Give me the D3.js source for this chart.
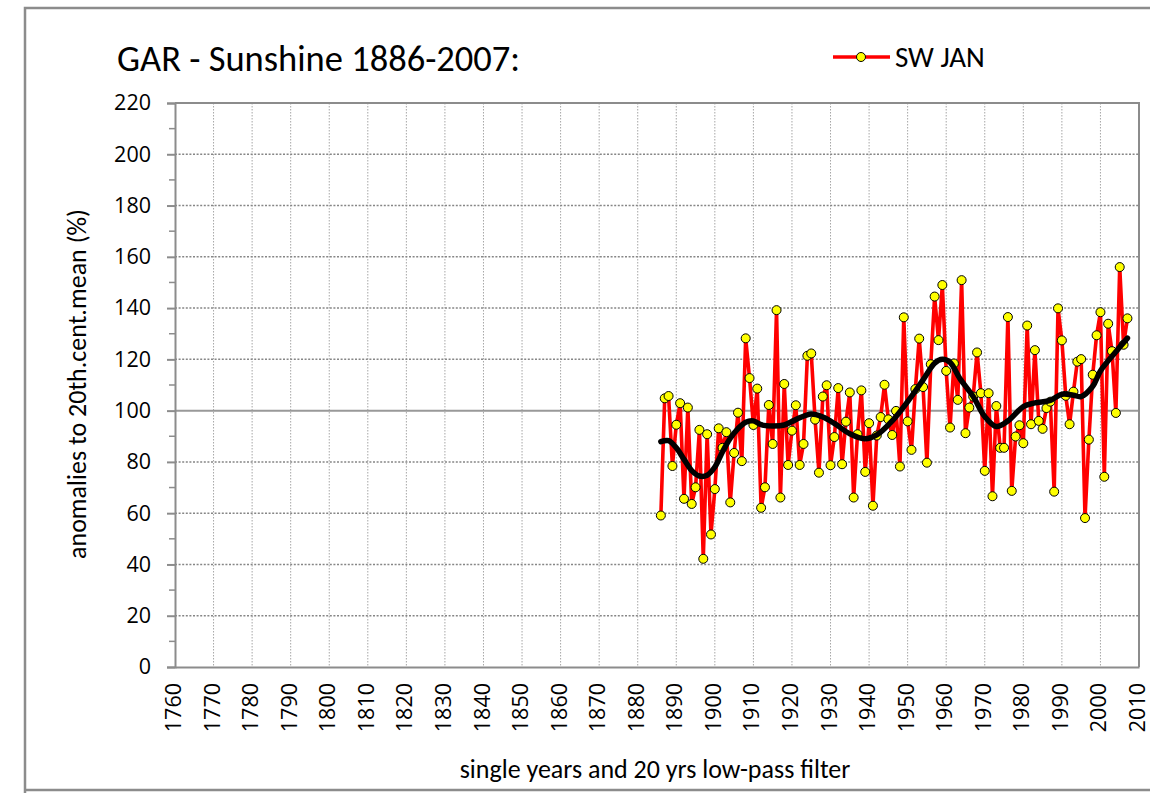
<!DOCTYPE html>
<html>
<head>
<meta charset="utf-8">
<script src="https://cdn.jsdelivr.net/npm/d3@7"></script>
<style>
  body { margin: 0; background: #fff; }
  svg text { font-family: Carlito, Calibri, Lato, sans-serif; fill: #000; }
</style>
</head>
<body>
<div id="chart"></div>
<script>
const title = 'GAR - Sunshine 1886-2007:';
const seriesName = 'SW JAN';
const yTitle = 'anomalies to 20th.cent.mean (%)';
const xTitle = 'single years and 20 yrs low-pass filter';

// single years 1886..2007
const years = d3.range(1886, 2008);
const sunshine = [
  59.1, 104.8, 105.7, 78.4, 94.5, 102.9, 65.6, 101.2, 63.6, 70.1,
  92.5, 42.2, 90.8, 51.7, 69.4, 93.1, 85.5, 91.6, 64.2, 83.5,
  99.2, 80.3, 128.2, 112.7, 94.4, 108.6, 62.1, 70.1, 102.2, 87.0,
  139.2, 66.1, 110.4, 78.8, 92.2, 102.1, 78.8, 87.0, 121.4, 122.3,
  96.5, 75.8, 105.5, 109.9, 78.7, 89.7, 108.8, 79.1, 95.7, 107.1,
  66.1, 90.8, 107.9, 76.1, 95.1, 62.9, 90.3, 97.5, 110.1, 96.6,
  90.5, 99.9, 78.2, 136.4, 95.8, 84.7, 108.4, 128.1, 109.2, 79.7,
  118.1, 144.5, 127.5, 149.0, 115.5, 93.4, 118.4, 104.2, 150.9, 91.2,
  101.2, 105.5, 122.7, 106.8, 76.5, 106.8, 66.6, 101.8, 85.5, 85.5,
  136.5, 68.7, 89.9, 94.3, 87.3, 133.2, 94.7, 123.6, 96.0, 92.9,
  101.0, 103.5, 68.4, 139.9, 127.4, 105.8, 94.7, 107.4, 119.1, 120.1,
  58.1, 88.7, 114.0, 129.4, 138.4, 74.2, 133.9, 123.2, 99.1, 156.0,
  125.7, 136.0
];

// 20 yrs low-pass filter
const filterYears = [1886, 1888, 1890, 1892, 1894, 1896, 1898, 1900, 1902, 1904, 1906, 1908,
  1910, 1912, 1915, 1918, 1921, 1925, 1928, 1931, 1935, 1939, 1942, 1946, 1950, 1954,
  1957, 1959, 1961, 1963.5, 1967, 1970, 1973, 1976, 1980, 1983, 1987, 1990, 1993, 1995,
  1998, 2000, 2004, 2007];
const filterValues = [87.9, 88.3, 85.5, 81.0, 76.6, 74.5, 74.8, 78.0, 84.0, 89.2, 93.0, 95.5,
  96.0, 94.5, 94.0, 94.4, 96.5, 98.7, 97.5, 95.0, 91.0, 89.0, 90.5, 96.0, 103.5, 112.0,
  118.5, 120.0, 118.8, 112.6, 105.5, 97.7, 93.8, 96.0, 101.6, 103.0, 104.0, 106.4, 106.0, 105.5,
  109.5, 115.5, 123.0, 128.3];

const xTicks = d3.range(1760, 2011, 10);
const yTicks = d3.range(0, 221, 20);
const yMinor = d3.range(10, 220, 20);

const W = 1150, H = 793;
const plot = { left: 175, right: 1139, top: 103, bottom: 667 };
const tickFont = '21.5px';
const tickFamily = '"Open Sans", Lato, sans-serif';

const svg = d3.select('#chart').append('svg')
  .attr('width', W).attr('height', H);

// outer frame
svg.append('path')
  .attr('d', `M25,${H + 5} L25,8 L${W + 5},8 M25,790 L${W + 5},790`)
  .attr('fill', 'none').attr('stroke', '#8c8c8c').attr('stroke-width', 2.5);

const x = d3.scaleLinear().domain([1760, 2010]).range([plot.left, plot.right]);
const y = d3.scaleLinear().domain([0, 220]).range([plot.bottom, plot.top]);

// Gridlines
svg.append('g').selectAll('line')
  .data(xTicks.filter(d => d > 1760 && d < 2010))
  .enter().append('line')
  .attr('x1', d => x(d)).attr('x2', d => x(d))
  .attr('y1', plot.top).attr('y2', plot.bottom)
  .attr('stroke', '#a6a6a6').attr('stroke-width', 1)
  .attr('stroke-dasharray', '1.5,1.5');

svg.append('g').selectAll('line')
  .data(yTicks.filter(d => d > 0 && d < 220 && d !== 100))
  .enter().append('line')
  .attr('x1', plot.left).attr('x2', plot.right)
  .attr('y1', d => y(d)).attr('y2', d => y(d))
  .attr('stroke', '#868686').attr('stroke-width', 1.5)
  .attr('stroke-dasharray', '2,1.6');

// 100% reference line
svg.append('line')
  .attr('x1', plot.left).attr('x2', plot.right)
  .attr('y1', y(100)).attr('y2', y(100))
  .attr('stroke', '#999').attr('stroke-width', 2);

// plot frame (top / right)
svg.append('path')
  .attr('d', `M${plot.left},${plot.top} L${plot.right},${plot.top} L${plot.right},${plot.bottom}`)
  .attr('fill', 'none').attr('stroke', '#8c8c8c').attr('stroke-width', 2);

// Y axis
const yAxis = svg.append('g')
  .attr('transform', `translate(${plot.left},0)`)
  .call(d3.axisLeft(y).tickValues(yTicks).tickSize(8).tickPadding(16));
yAxis.selectAll('text').attr('font-size', tickFont)
  .style('font-family', tickFamily);
yAxis.select('.domain').attr('stroke', '#8c8c8c').attr('stroke-width', 2);
yAxis.selectAll('.tick line').attr('stroke', '#8c8c8c').attr('stroke-width', 2);

svg.append('g').selectAll('line')
  .data(yMinor)
  .enter().append('line')
  .attr('x1', plot.left - 6).attr('x2', plot.left)
  .attr('y1', d => y(d)).attr('y2', d => y(d))
  .attr('stroke', '#8c8c8c').attr('stroke-width', 1.5);

// X axis
const xAxis = svg.append('g')
  .attr('transform', `translate(0,${plot.bottom})`)
  .call(d3.axisBottom(x).tickValues(xTicks).tickSize(0).tickPadding(0).tickFormat(d3.format('d')));
xAxis.select('.domain').attr('stroke', '#8c8c8c').attr('stroke-width', 2);
xAxis.selectAll('text')
  .attr('font-size', tickFont)
  .style('font-family', tickFamily)
  .attr('transform', 'rotate(-90)')
  .attr('text-anchor', 'end')
  .attr('dy', '0.35em')
  .attr('x', -16)
  .attr('y', -2);

// series line
const line = d3.line().x((d, i) => x(years[i])).y(d => y(d));
svg.append('path')
  .datum(sunshine)
  .attr('d', line)
  .attr('fill', 'none').attr('stroke', '#ff0000')
  .attr('stroke-width', 3.6).attr('stroke-linejoin', 'round');

svg.append('g').selectAll('circle')
  .data(sunshine)
  .enter().append('circle')
  .attr('cx', (d, i) => x(years[i]))
  .attr('cy', d => y(d))
  .attr('r', 4.5)
  .attr('fill', '#ffff00').attr('stroke', '#000').attr('stroke-width', 1);

// low-pass filter
const smooth = d3.line()
  .x((d, i) => x(filterYears[i])).y(d => y(d))
  .curve(d3.curveCatmullRom.alpha(0.5));
svg.append('path')
  .datum(filterValues)
  .attr('d', smooth)
  .attr('fill', 'none').attr('stroke', '#000')
  .attr('stroke-width', 5.5).attr('stroke-linecap', 'round');

// Title and legend
svg.append('text')
  .attr('x', 117).attr('y', 71)
  .attr('font-size', '36.5px')
  .text(title);

svg.append('line')
  .attr('x1', 833).attr('x2', 890).attr('y1', 57).attr('y2', 57)
  .attr('stroke', '#ff0000').attr('stroke-width', 3.6);
svg.append('circle')
  .attr('cx', 861).attr('cy', 57).attr('r', 4.5)
  .attr('fill', '#ffff00').attr('stroke', '#000').attr('stroke-width', 1);
svg.append('text')
  .attr('x', 895).attr('y', 67)
  .attr('font-size', '29px')
  .text(seriesName);

// Axis titles
svg.append('text')
  .attr('transform', `translate(86,384) rotate(-90)`)
  .attr('text-anchor', 'middle')
  .attr('font-size', '26px')
  .text(yTitle);

svg.append('text')
  .attr('x', 655).attr('y', 778)
  .attr('text-anchor', 'middle')
  .attr('font-size', '26px')
  .text(xTitle);
</script>
</body>
</html>
